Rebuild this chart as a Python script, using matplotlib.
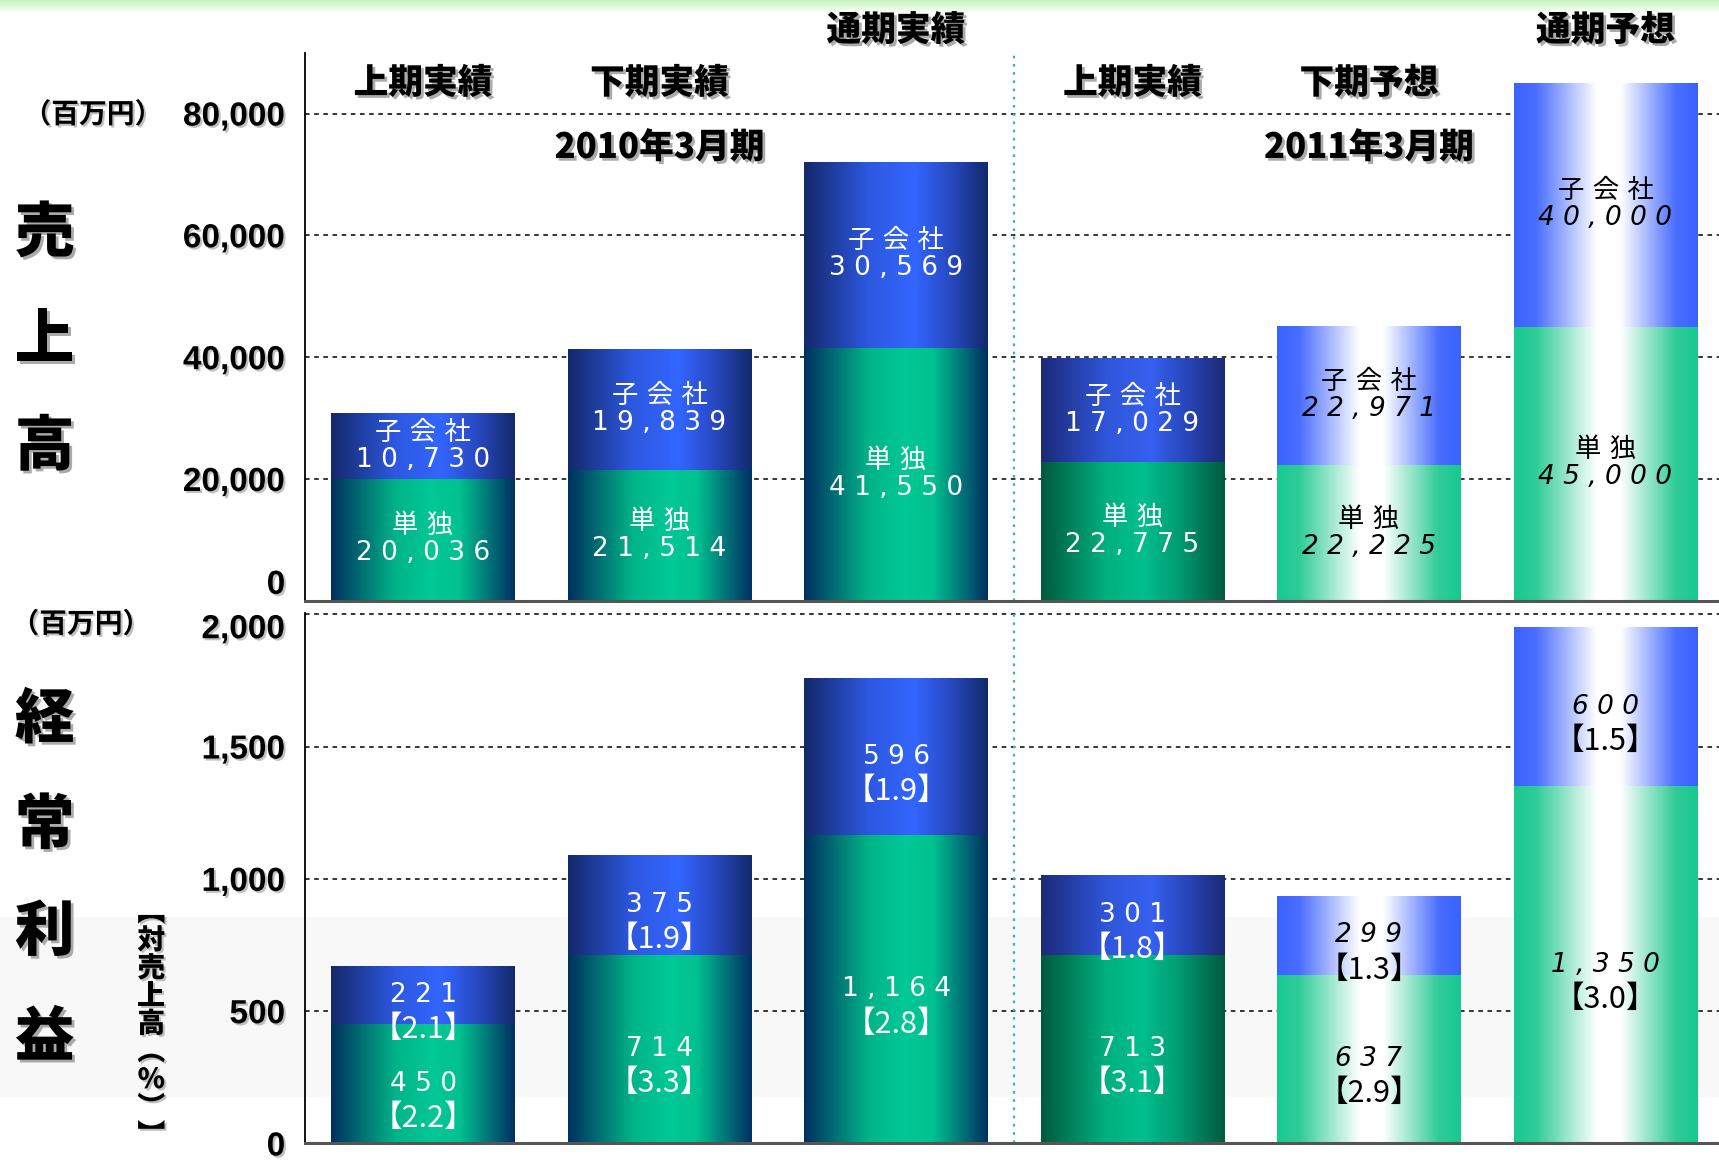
import numpy as np
import matplotlib.pyplot as plt
import matplotlib.patheffects as pe
import matplotlib.transforms as mtransforms
from matplotlib.colors import LinearSegmentedColormap
from matplotlib.patches import Rectangle

plt.rcParams['font.family'] = ['Noto Sans CJK JP', 'DejaVu Sans']

# データ (百万円)
periods = ['上期実績', '下期実績', '通期実績', '上期実績', '下期予想', '通期予想']
fiscal_years = ['2010年3月期', '2011年3月期']
sales_single = [20036, 21514, 41550, 22775, 22225, 45000]
sales_sub = [10730, 19839, 30569, 17029, 22971, 40000]
profit_single = [450, 714, 1164, 713, 637, 1350]
profit_sub = [221, 375, 596, 301, 299, 600]
ratio_single = [2.2, 3.3, 2.8, 3.1, 2.9, 3.0]
ratio_sub = [2.1, 1.9, 1.9, 1.8, 1.3, 1.5]
sales_ticks = [0, 20000, 40000, 60000, 80000]
profit_ticks = [0, 500, 1000, 1500, 2000]
forecast = [False, False, False, False, True, True]

x = np.arange(len(periods))
W = 0.775

# グラデーション
def cm(stops):
    return LinearSegmentedColormap.from_list('g', stops)

green_a = cm([(0, '#00305f'), (0.35, '#00b488'), (0.55, '#00c896'), (0.7, '#00c290'), (1, '#002f62')])
blue_a = cm([(0, '#14286a'), (0.35, '#2d58e0'), (0.6, '#3366ff'), (0.8, '#2848c0'), (1, '#122a6c')])
green_b = cm([(0, '#005a3c'), (0.35, '#00b07e'), (0.55, '#00c08e'), (0.75, '#009c72'), (1, '#005a40')])
blue_b = cm([(0, '#1a2a78'), (0.35, '#2f55d8'), (0.6, '#3660f0'), (0.8, '#2845b8'), (1, '#1a2a76')])
green_f = cm([(0, '#18c890'), (0.12, '#30cc98'), (0.45, '#ffffff'), (0.58, '#ffffff'), (0.88, '#30cc98'), (1, '#18c890')])
blue_f = cm([(0, '#3a62ff'), (0.12, '#4a6eff'), (0.45, '#ffffff'), (0.58, '#ffffff'), (0.88, '#4a6eff'), (1, '#3a62ff')])
green_maps = [green_a, green_a, green_a, green_b, green_f, green_f]
blue_maps = [blue_a, blue_a, blue_a, blue_b, blue_f, blue_f]

ramp = np.linspace(0, 1, 256).reshape(1, -1)


def paint(ax, bars, maps):
    for b, m in zip(bars, maps):
        x0, y0, w, h = b.get_x(), b.get_y(), b.get_width(), b.get_height()
        im = ax.imshow(ramp, cmap=m, extent=[x0, x0 + w, y0, y0 + h],
                       aspect='auto', zorder=2, interpolation='bicubic')
        im.set_clip_path(b)
        b.set_facecolor('none')


def sp(s):
    return ' '.join(s)


shadow = [pe.withSimplePatchShadow(offset=(2, -2), shadow_rgbFace='#888888', alpha=0.7)]
small_shadow = [pe.withSimplePatchShadow(offset=(1.5, -1.5), shadow_rgbFace='#999999', alpha=0.6)]

fig = plt.figure(figsize=(17.19, 11.61), dpi=100)

# 背景
top_band = fig.add_axes([0, 0.988, 1, 0.012])
top_band.imshow(np.linspace(0, 1, 50).reshape(-1, 1), cmap=cm(['#c8f5bc', '#ffffff']),
                aspect='auto')
top_band.axis('off')
fig.patches.append(Rectangle((0, 0.055), 1, 0.155, transform=fig.transFigure,
                             facecolor='#f8f8f8', edgecolor='none', zorder=-5))

ax1 = fig.add_axes([0.1773, 0.4825, 0.8227, 0.4722])
ax2 = fig.add_axes([0.1773, 0.0151, 0.8227, 0.4570])

for ax in (ax1, ax2):
    ax.set_facecolor('none')
    for s in ('top', 'right'):
        ax.spines[s].set_visible(False)
    ax.spines['left'].set_color('black')
    ax.spines['left'].set_linewidth(1.3)
    ax.spines['bottom'].set_color('#555555')
    ax.spines['bottom'].set_linewidth(2.2)
    ax.set_xticks([])
    ax.tick_params(axis='y', length=0, pad=14)
    ax.grid(axis='y', color='black', linestyle=(0, (3, 3)), linewidth=1.1, zorder=0)
    ax.set_axisbelow(True)
    ax.axvline(2.5, color='#30b8b8', linestyle=(0, (1.2, 2.5)), linewidth=1.6, zorder=1)

# 売上高
b1 = ax1.bar(x, sales_single, W, edgecolor='none', zorder=2)
b2 = ax1.bar(x, sales_sub, W, bottom=sales_single, edgecolor='none', zorder=2)
paint(ax1, b1, green_maps)
paint(ax1, b2, blue_maps)
ax1.set_xlim(-0.5, 5.48)
ax1.set_ylim(0, 90000)
ax1.set_yticks(sales_ticks)
ax1.set_yticklabels([f'{v:,}' for v in sales_ticks])

# 経常利益
c1 = ax2.bar(x, profit_single, W, edgecolor='none', zorder=2)
c2 = ax2.bar(x, profit_sub, W, bottom=profit_single, edgecolor='none', zorder=2)
paint(ax2, c1, green_maps)
paint(ax2, c2, blue_maps)
ax2.set_xlim(-0.5, 5.48)
ax2.set_ylim(0, 2005)
ax2.set_yticks(profit_ticks)
ax2.set_yticklabels([f'{v:,}' for v in profit_ticks])

for ax in (ax1, ax2):
    for lbl in ax.get_yticklabels():
        lbl.set_fontfamily(['Liberation Sans', 'DejaVu Sans'])
        lbl.set_fontweight('bold')
        lbl.set_fontsize(24)
        lbl.set_path_effects(small_shadow)
ax1.get_yticklabels()[0].set_va('bottom')
ax2.get_yticklabels()[-1].set_va('top')

# バー内ラベル
num_font = ['DejaVu Sans', 'Noto Sans CJK JP']
for i in x:
    col = 'black' if forecast[i] else 'white'
    st = 'italic' if forecast[i] else 'normal'
    kw = dict(ha='center', va='center', color=col, style=st, fontsize=19,
              family=num_font, linespacing=1.05, zorder=4)
    ax1.text(i, sales_single[i] / 2,
             sp('単独') + '\n' + sp(f'{sales_single[i]:,}'), **kw)
    ax1.text(i, sales_single[i] + sales_sub[i] / 2,
             sp('子会社') + '\n' + sp(f'{sales_sub[i]:,}'), **kw)

    yc = profit_single[i] / 2
    yb = profit_single[i] + profit_sub[i] / 2
    ax2.text(i, yc, sp(f'{profit_single[i]:,}'), **kw)
    ax2.text(i, yb, sp(f'{profit_sub[i]:,}'), **kw)
    bkw = dict(ha='center', va='center', color=col, fontsize=22,
               family=['Noto Sans CJK JP', 'DejaVu Sans'],
               textcoords='offset points', zorder=4)
    ax2.annotate(f'【{ratio_single[i]}】', xy=(i, yc), xytext=(0, -25), **bkw)
    ax2.annotate(f'【{ratio_sub[i]}】', xy=(i, yb), xytext=(0, -25), **bkw)

# 見出し
bt = mtransforms.blended_transform_factory(ax1.transData, fig.transFigure)
head_y = [0.9285, 0.9285, 0.974, 0.9285, 0.9285, 0.974]
for i in x:
    ax1.text(i, head_y[i], periods[i], transform=bt, ha='center', va='center',
             fontsize=25, fontweight='heavy', style='italic' if forecast[i] else 'normal',
             path_effects=shadow, clip_on=False)
for i, fy in zip([1, 4], fiscal_years):
    ax1.text(i, 0.873, fy, transform=bt, ha='center', va='center', fontsize=25,
             fontweight='heavy', path_effects=shadow, clip_on=False)

# 左側ラベル
for ch, yy in zip('売上高', [0.799, 0.707, 0.615]):
    fig.text(0.026, yy, ch, ha='center', va='center', fontsize=43,
             fontweight='heavy', path_effects=shadow)
for ch, yy in zip('経常利益', [0.380, 0.289, 0.197, 0.106]):
    fig.text(0.026, yy, ch, ha='center', va='center', fontsize=43,
             fontweight='heavy', path_effects=shadow)
fig.text(0.054, 0.901, '（百万円）', ha='center', va='center', fontsize=20,
         fontweight='bold', path_effects=small_shadow)
fig.text(0.047, 0.462, '（百万円）', ha='center', va='center', fontsize=20,
         fontweight='bold', path_effects=small_shadow)
fig.text(0.088, 0.226, '︻\n対\n売\n上\n高\n︵\n%\n︶\n︼', ha='center', va='top',
         fontsize=20, fontweight='heavy', linespacing=0.97, path_effects=small_shadow)

fig.savefig('out.png', dpi=100)
